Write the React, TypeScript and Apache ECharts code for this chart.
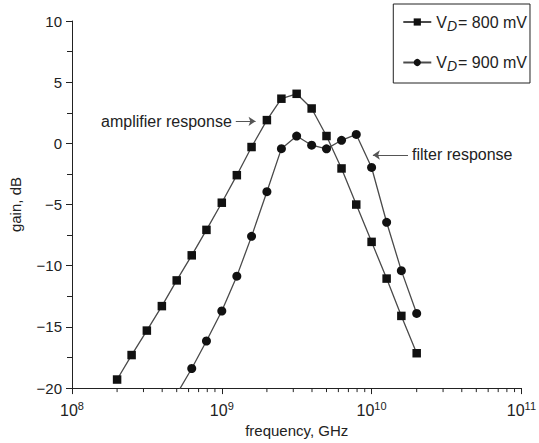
import React, { useEffect, useRef } from "react";
import * as echarts from "echarts";

// Frequencies (Hz) and gains (dB)
const freq800 = [2.0e8, 2.5e8, 3.16e8, 3.98e8, 5.0e8, 6.3e8, 7.9e8, 1.0e9, 1.26e9, 1.58e9, 2.0e9, 2.5e9, 3.16e9, 3.98e9, 5.0e9, 6.3e9, 7.9e9, 1.0e10, 1.26e10, 1.58e10, 2.0e10];
const gain800 = [-19.3, -17.3, -15.3, -13.3, -11.2, -9.15, -7.07, -4.85, -2.6, -0.3, 1.9, 3.65, 4.05, 2.85, 0.6, -2.05, -5.0, -8.05, -11.05, -14.1, -17.15];

const freq900 = [5.0e8, 6.3e8, 7.9e8, 1.0e9, 1.26e9, 1.58e9, 2.0e9, 2.5e9, 3.16e9, 3.98e9, 5.0e9, 6.3e9, 7.9e9, 1.0e10, 1.26e10, 1.58e10, 2.0e10];
const gain900 = [-20.5, -18.4, -16.15, -13.7, -10.85, -7.6, -3.95, -0.43, 0.6, -0.15, -0.45, 0.25, 0.73, -1.97, -6.45, -10.4, -13.9];

const seriesNames = ["VD = 800 mV", "VD = 900 mV"];
const legendLabels = ["V{d|D}= 800 mV", "V{d|D}= 900 mV"];

const xMinorTicks = [
  2e8, 3e8, 4e8, 5e8, 6e8, 7e8, 8e8, 9e8,
  2e9, 3e9, 4e9, 5e9, 6e9, 7e9, 8e9, 9e9,
  2e10, 3e10, 4e10, 5e10, 6e10, 7e10, 8e10, 9e10,
];

// Annotation arrows (data coordinates)
const ampArrowX = [1.24e9, 1.68e9];
const ampArrowY = 1.8;
const filterArrowX = [1.75e10, 1.02e10];
const filterArrowY = -0.95;

const FONT = "'Liberation Sans', Arial, Helvetica, sans-serif";

export default function App() {
  const ref = useRef<HTMLDivElement>(null);

  useEffect(() => {
    if (!ref.current) return;
    const chart = echarts.init(ref.current, undefined, { renderer: "svg" });

    const lineColor = "#4a4a4a";
    const markColor = "#111";

    const option: any = {
      animation: false,
      backgroundColor: "#fff",
      textStyle: { fontFamily: FONT },
      grid: { left: 64, right: 15, top: 21, bottom: 52, containLabel: false },
      legend: {
        data: seriesNames,
        orient: "vertical",
        right: 9,
        top: 4,
        padding: [10, 3, 10, 9],
        itemGap: 22,
        itemWidth: 28,
        itemHeight: 9,
        borderColor: "#222",
        borderWidth: 1,
        backgroundColor: "#fff",
        formatter: (name: string) => legendLabels[seriesNames.indexOf(name)],
        textStyle: {
          fontFamily: FONT,
          fontSize: 16,
          color: "#222",
          rich: {
            d: { fontSize: 14, fontStyle: "italic", fontFamily: FONT, color: "#222", padding: [7, 1, 0, 0] },
          },
        },
      },
      xAxis: {
        type: "log",
        logBase: 10,
        min: 1e8,
        max: 1e11,
        name: "frequency, GHz",
        nameLocation: "middle",
        nameGap: 34,
        nameTextStyle: { fontSize: 15, color: "#222", fontFamily: FONT },
        axisLine: { show: true, onZero: false, lineStyle: { color: "#222", width: 1 } },
        axisTick: { show: true, length: 6, lineStyle: { color: "#222" } },
        splitLine: { show: false },
        axisLabel: {
          margin: 12,
          color: "#222",
          formatter: (v: number) => `{b|10}{s|${Math.round(Math.log10(v))}}`,
          rich: {
            b: { fontSize: 16, fontFamily: FONT, color: "#222" },
            s: { fontSize: 11, fontFamily: FONT, color: "#222", padding: [0, 0, 9, 0] },
          },
        },
      },
      yAxis: {
        type: "value",
        min: -20,
        max: 10,
        interval: 5,
        name: "gain, dB",
        nameLocation: "middle",
        nameGap: 49,
        nameTextStyle: { fontSize: 15, color: "#222", fontFamily: FONT },
        axisLine: { show: true, lineStyle: { color: "#222", width: 1 } },
        axisTick: { show: true, length: 6, lineStyle: { color: "#222" } },
        minorTick: { show: true, splitNumber: 2, length: 5, lineStyle: { color: "#222" } },
        splitLine: { show: false },
        axisLabel: {
          fontSize: 15,
          color: "#222",
          margin: 10,
          formatter: (v: number) => (v < 0 ? "\u2212" + Math.abs(v) : String(v)),
        },
      },
      series: [
        {
          name: seriesNames[0],
          type: "line",
          data: freq800.map((f, i) => [f, gain800[i]]),
          symbol: "rect",
          symbolSize: 8.5,
          lineStyle: { color: lineColor, width: 1.3 },
          itemStyle: { color: markColor },
          clip: true,
          markLine: {
            silent: true,
            symbol: ["none", "arrow"],
            symbolSize: 7,
            lineStyle: { color: "#555", width: 1, type: "solid" },
            label: { show: true, position: "start", formatter: "amplifier response", fontSize: 16, color: "#222", fontFamily: FONT, distance: 4 },
            data: [[{ coord: [ampArrowX[0], ampArrowY] }, { coord: [ampArrowX[1], ampArrowY] }]],
          },
        },
        {
          name: seriesNames[1],
          type: "line",
          data: freq900.map((f, i) => [f, gain900[i]]),
          symbol: "circle",
          symbolSize: 9,
          lineStyle: { color: lineColor, width: 1.3 },
          itemStyle: { color: markColor },
          clip: true,
          markLine: {
            silent: true,
            symbol: ["none", "arrow"],
            symbolSize: 7,
            lineStyle: { color: "#555", width: 1, type: "solid" },
            label: { show: true, position: "start", formatter: "filter response", fontSize: 16, color: "#222", fontFamily: FONT, distance: 4 },
            data: [[{ coord: [filterArrowX[0], filterArrowY] }, { coord: [filterArrowX[1], filterArrowY] }]],
          },
        },
        {
          name: "minorTicks",
          type: "custom",
          silent: true,
          clip: false,
          data: xMinorTicks.map((f) => [f, -20]),
          encode: { x: 0, y: 1 },
          renderItem: (params: any, api: any) => {
            const p = api.coord([api.value(0), api.value(1)]);
            return {
              type: "line",
              shape: { x1: p[0], y1: p[1], x2: p[0], y2: p[1] + 4 },
              style: { stroke: "#222", lineWidth: 1 },
            };
          },
        },
      ],
    };

    chart.setOption(option);
    return () => chart.dispose();
  }, []);

  return (
    <div
      ref={ref}
      style={{ position: "fixed", left: 0, top: 0, width: 539, height: 443 }}
    />
  );
}
